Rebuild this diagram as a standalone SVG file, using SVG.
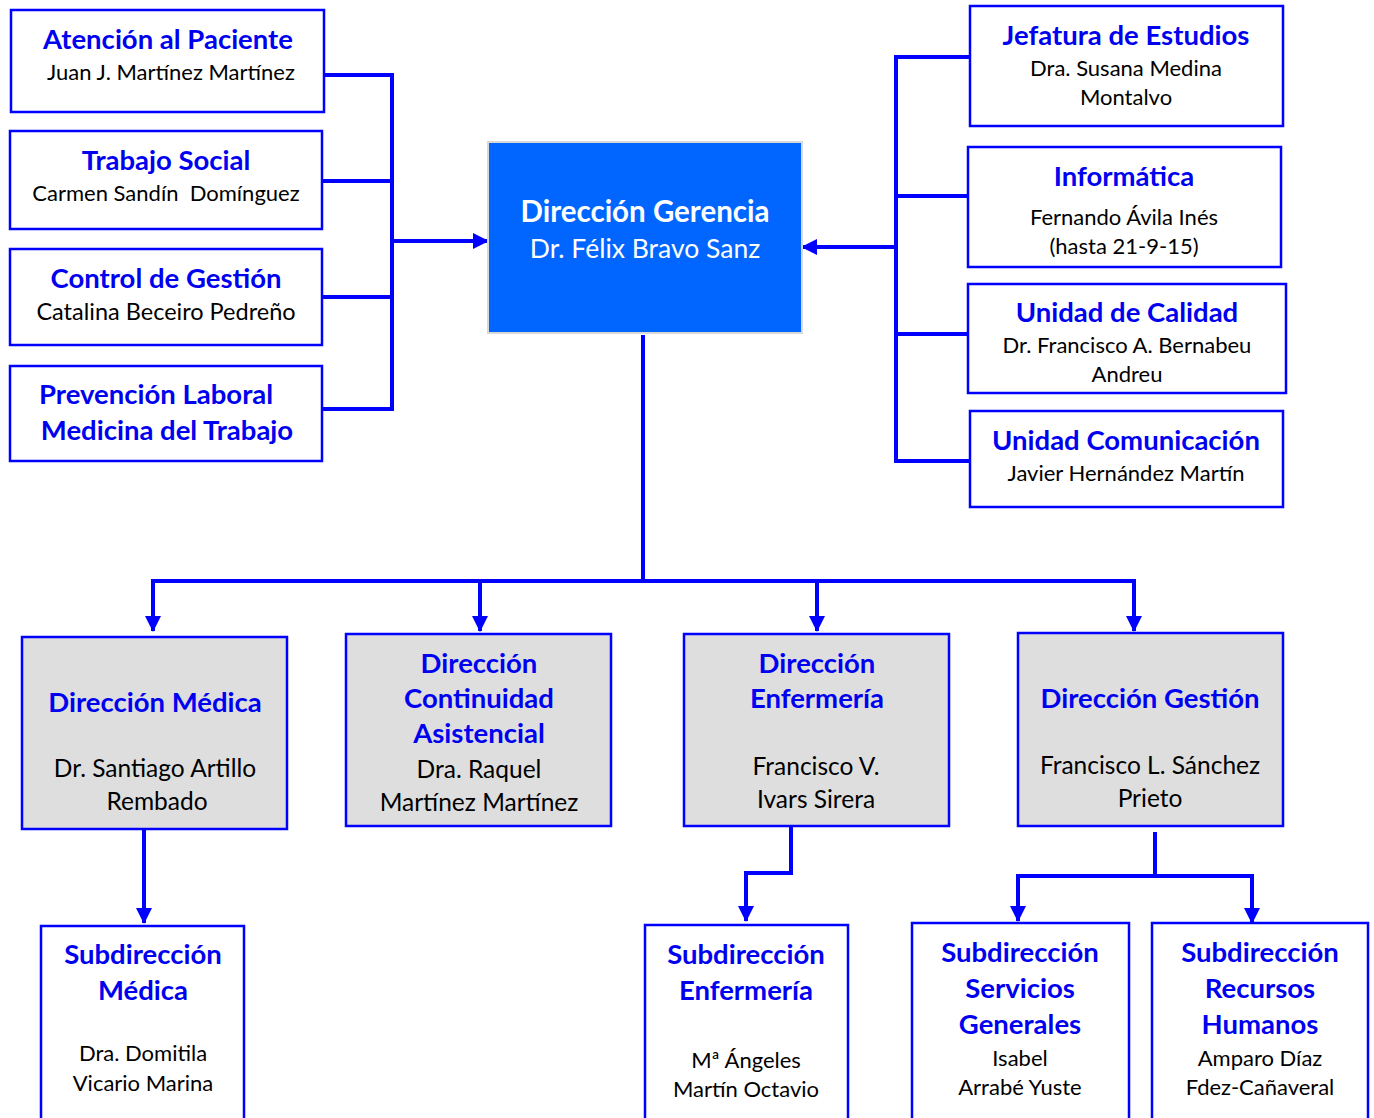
<svg xmlns="http://www.w3.org/2000/svg" width="1374" height="1118" viewBox="0 0 1374 1118">
<defs>
<marker id="ah" markerUnits="userSpaceOnUse" markerWidth="16" markerHeight="16" viewBox="0 0 16 16" refX="15" refY="8" orient="auto">
<path d="M0,0 L16,8 L0,16 Z" fill="#0000FF"/>
</marker>
</defs>
<style>
.box{fill:#FFFFFF;stroke:#0000FF;stroke-width:2.5}
.gbox{fill:#DEDEDE;stroke:#0000FF;stroke-width:2.5}
.t{font-family:Lato,"Open Sans",sans-serif;font-weight:bold;fill:#0000F0;text-anchor:middle;font-size:27.5px}
.n{font-family:Lato,"Open Sans",sans-serif;fill:#000000;text-anchor:middle;font-size:22px}
.b{font-size:24.5px}
.w{fill:#FFFFFF}
.c{fill:none;stroke:#0000FF;stroke-width:4}
</style>
<rect width="1374" height="1118" fill="#FFFFFF"/>
<g id="connectors">
<path class="c" d="M324,75 H392 M322,181 H392 M322,297 H392 M322,409 H392 M392,73 V411"/>
<path class="c" d="M392,241 H488" marker-end="url(#ah)"/>
<path class="c" d="M970,57 H896 M967,196 H896 M967,334 H896 M970,461 H896 M896,55 V463"/>
<path class="c" d="M896,247 H802" marker-end="url(#ah)"/>
<path class="c" d="M643,335 V581 M153,581 H1135"/>
<path class="c" d="M153,579 V631" marker-end="url(#ah)"/>
<path class="c" d="M480,579 V631" marker-end="url(#ah)"/>
<path class="c" d="M817,579 V631" marker-end="url(#ah)"/>
<path class="c" d="M1134,579 V631" marker-end="url(#ah)"/>
<path class="c" d="M144,829 V923" marker-end="url(#ah)"/>
<path class="c" d="M791,826 V873 H746 V921" marker-end="url(#ah)"/>
<path class="c" d="M1155,832 V876"/>
<path class="c" d="M1018,876 H1252"/>
<path class="c" d="M1018,874 V921" marker-end="url(#ah)"/>
<path class="c" d="M1252,874 V923" marker-end="url(#ah)"/>
</g>
<g id="atencion">
<rect class="box" x="11" y="10" width="313" height="102"/>
<text class="t" x="168" y="49">Atención al Paciente</text>
<text class="n" x="171" y="80">Juan J. Martínez Martínez</text>
</g>
<g id="trabajo">
<rect class="box" x="10" y="131" width="312" height="98"/>
<text class="t" x="166" y="170">Trabajo Social</text>
<text class="n" x="166" y="201" xml:space="preserve">Carmen Sandín  Domínguez</text>
</g>
<g id="control">
<rect class="box" x="10" y="249" width="312" height="96"/>
<text class="t" x="166" y="288">Control de Gestión</text>
<text class="n" x="166" y="320" style="font-size:23.5px">Catalina Beceiro Pedreño</text>
</g>
<g id="prevencion">
<rect class="box" x="10" y="366" width="312" height="95"/>
<text class="t" x="156" y="404">Prevención Laboral</text>
<text class="t" x="167" y="440">Medicina del Trabajo</text>
</g>
<g id="gerencia">
<rect x="488" y="142" width="314" height="191" fill="#0066FF" stroke="#D8D8D8" stroke-width="2"/>
<text class="t w" x="645" y="222" style="font-size:29.5px">Dirección Gerencia</text>
<text class="n w" x="645" y="258" style="font-size:26.5px">Dr. Félix Bravo Sanz</text>
</g>
<g id="jefatura">
<rect class="box" x="970" y="6" width="313" height="120"/>
<text class="t" x="1126" y="45">Jefatura de Estudios</text>
<text class="n" x="1126" y="76">Dra. Susana Medina</text>
<text class="n" x="1126" y="105">Montalvo</text>
</g>
<g id="informatica">
<rect class="box" x="968" y="147" width="313" height="120"/>
<text class="t" x="1124" y="186">Informática</text>
<text class="n" x="1124" y="225">Fernando Ávila Inés</text>
<text class="n" x="1124" y="254">(hasta 21-9-15)</text>
</g>
<g id="calidad">
<rect class="box" x="968" y="284" width="318" height="109"/>
<text class="t" x="1127" y="322">Unidad de Calidad</text>
<text class="n" x="1127" y="353">Dr. Francisco A. Bernabeu</text>
<text class="n" x="1127" y="382">Andreu</text>
</g>
<g id="comunicacion">
<rect class="box" x="970" y="411" width="313" height="96"/>
<text class="t" x="1126" y="450">Unidad Comunicación</text>
<text class="n" x="1126" y="481">Javier Hernández Martín</text>
</g>
<g id="dmedica">
<rect class="gbox" x="22" y="637" width="265" height="192"/>
<text class="t" x="155" y="712">Dirección Médica</text>
<text class="n b" x="155" y="777">Dr. Santiago Artillo</text>
<text class="n b" x="157" y="810">Rembado</text>
</g>
<g id="dcontinuidad">
<rect class="gbox" x="346" y="634" width="265" height="192"/>
<text class="t" x="479" y="673">Dirección</text>
<text class="t" x="479" y="708">Continuidad</text>
<text class="t" x="479" y="743">Asistencial</text>
<text class="n b" x="479" y="778">Dra. Raquel</text>
<text class="n b" x="479" y="811">Martínez Martínez</text>
</g>
<g id="denfermeria">
<rect class="gbox" x="684" y="634" width="265" height="192"/>
<text class="t" x="817" y="673">Dirección</text>
<text class="t" x="817" y="708">Enfermería</text>
<text class="n b" x="816" y="775">Francisco V.</text>
<text class="n b" x="816" y="808">Ivars Sirera</text>
</g>
<g id="dgestion">
<rect class="gbox" x="1018" y="633" width="265" height="193"/>
<text class="t" x="1150" y="708">Dirección Gestión</text>
<text class="n b" x="1150" y="774">Francisco L. Sánchez</text>
<text class="n b" x="1150" y="807">Prieto</text>
</g>
<g id="smedica">
<rect class="box" x="41" y="926" width="203" height="200"/>
<text class="t" x="143" y="964">Subdirección</text>
<text class="t" x="143" y="1000">Médica</text>
<text class="n" x="143" y="1061">Dra. Domitila</text>
<text class="n" x="143" y="1091">Vicario Marina</text>
</g>
<g id="senfermeria">
<rect class="box" x="645" y="925" width="203" height="200"/>
<text class="t" x="746" y="964">Subdirección</text>
<text class="t" x="746" y="1000">Enfermería</text>
<text class="n" x="746" y="1068">Mª Ángeles</text>
<text class="n" x="746" y="1097">Martín Octavio</text>
</g>
<g id="sservicios">
<rect class="box" x="912" y="923" width="217" height="200"/>
<text class="t" x="1020" y="962">Subdirección</text>
<text class="t" x="1020" y="998">Servicios</text>
<text class="t" x="1020" y="1034">Generales</text>
<text class="n" x="1020" y="1066">Isabel</text>
<text class="n" x="1020" y="1095">Arrabé Yuste</text>
</g>
<g id="srrhh">
<rect class="box" x="1152" y="923" width="216" height="200"/>
<text class="t" x="1260" y="962">Subdirección</text>
<text class="t" x="1260" y="998">Recursos</text>
<text class="t" x="1260" y="1034">Humanos</text>
<text class="n" x="1260" y="1066">Amparo Díaz</text>
<text class="n" x="1260" y="1095">Fdez-Cañaveral</text>
</g>
</svg>
